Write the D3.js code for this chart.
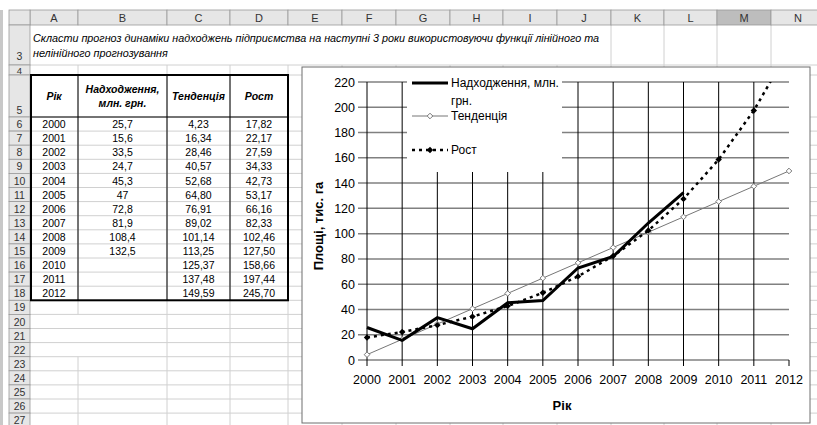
<!DOCTYPE html>
<html>
<head>
<meta charset="utf-8">
<script src="https://cdn.jsdelivr.net/npm/d3@7"></script>
<style>
body { margin: 0; background: #fff; }
svg { display: block; }
text { font-family: Arial, "Liberation Sans", sans-serif; }
</style>
</head>
<body>
<div id="sheet"></div>
<script>
// data
const years = [2000, 2001, 2002, 2003, 2004, 2005, 2006, 2007, 2008, 2009, 2010, 2011, 2012]
const revenue = [25.7, 15.6, 33.5, 24.7, 45.3, 47, 72.8, 81.9, 108.4, 132.5]
const trend = [4.23, 16.34, 28.46, 40.57, 52.68, 64.80, 76.91, 89.02, 101.14, 113.25, 125.37, 137.48, 149.59]
const growth = [17.82, 22.17, 27.59, 34.33, 42.73, 53.17, 66.16, 82.33, 102.46, 127.50, 158.66, 197.44, 245.70]
const yTicks = [0, 20, 40, 60, 80, 100, 120, 140, 160, 180, 200, 220]
const colLetters = ['A', 'B', 'C', 'D', 'E', 'F', 'G', 'H', 'I', 'J', 'K', 'L', 'M', 'N']
const taskLines = ['Скласти прогноз динаміки надходжень підприємства на наступні 3 роки використовуючи функції лінійного та',
                   'нелінійного прогнозування']
const tableHeaders = [['Рік'], ['Надходження,', 'млн. грн.'], ['Тенденція'], ['Рост']]
const legendLabels = [['Надходження, млн.', 'грн.'], ['Тенденція'], ['Рост']]
const xTitle = 'Рік'
const yTitle = 'Площі, тис. га'

const width = 817, height = 425
const col_edges = [30, 78, 167, 230, 288, 342, 396, 450, 503, 557, 611, 664, 717, 771, 825]
const head_top = 10, head_bottom = 25
const row_h = 14.1
const grid_color = '#d0d0d0'
const head_fill = '#e6e6e6'

// row 3..27 -> [top, bottom]
function row_span(r) {
  if (r == 3) return [25, 65]
  if (r == 4) return [65, 75]
  if (r == 5) return [75, 117]
  let top = 117 + (r - 6) * row_h
  return [top, top + row_h]
}
const rows = d3.range(3, 28)

const fmt2 = d3.format('.2f')
const comma = s => String(s).replace('.', ',')

const svg = d3.select('#sheet').append('svg')
  .attr('width', width).attr('height', height)

// ---------- spreadsheet ----------
const grid = svg.append('g')

// horizontal gridlines
rows.forEach(r => {
  grid.append('line')
    .attr('x1', 30).attr('x2', width)
    .attr('y1', row_span(r)[1]).attr('y2', row_span(r)[1])
    .style('stroke', grid_color)
})

// vertical gridlines, skipping merged cells (A3:J3, A20:B22)
col_edges.slice(1).forEach((x, i) => {
  rows.forEach(r => {
    let [t, b] = row_span(r)
    if (r == 3 && i < 9) return
    if (r >= 20 && r <= 22 && i == 0) return
    grid.append('line')
      .attr('x1', x).attr('x2', x).attr('y1', t).attr('y2', b)
      .style('stroke', grid_color)
  })
})

// column headers
colLetters.forEach((c, i) => {
  let x0 = col_edges[i], x1 = col_edges[i + 1]
  grid.append('rect')
    .attr('x', x0).attr('y', head_top).attr('width', x1 - x0).attr('height', head_bottom - head_top)
    .style('fill', c == 'M' ? '#bdbdbd' : head_fill)
    .style('stroke', '#9a9a9a').style('stroke-width', 0.8)
  grid.append('text')
    .attr('x', (x0 + x1) / 2).attr('y', head_bottom - 3.5)
    .attr('text-anchor', 'middle')
    .style('font-size', '11px').style('fill', '#333')
    .text(c)
})
grid.append('rect')
  .attr('x', 9).attr('y', head_top).attr('width', 21).attr('height', head_bottom - head_top)
  .style('fill', head_fill).style('stroke', '#9a9a9a').style('stroke-width', 0.8)

// row headers
rows.forEach(r => {
  let [t, b] = row_span(r)
  grid.append('rect')
    .attr('x', 9).attr('y', t).attr('width', 21).attr('height', b - t)
    .style('fill', head_fill).style('stroke', '#9a9a9a').style('stroke-width', 0.8)
  grid.append('text')
    .attr('x', 19.5).attr('y', r == 4 ? b - 1.5 : (r == 3 ? b - 5 : b - 3))
    .attr('text-anchor', 'middle')
    .style('font-size', r == 4 ? '9.5px' : '10.5px').style('fill', '#333')
    .text(r)
})
grid.append('rect')
  .attr('x', 0).attr('y', head_top).attr('width', 3).attr('height', height)
  .style('fill', '#c8c8c8')

// task text in merged A3:J3
taskLines.forEach((line, i) => {
  grid.append('text')
    .attr('x', 33).attr('y', 41.5 + i * 15)
    .style('font-size', '10.8px').style('font-style', 'italic')
    .text(line)
})

// table A5:D18
const table = svg.append('g')
tableHeaders.forEach((lines, i) => {
  let cx = (col_edges[i] + col_edges[i + 1]) / 2
  lines.forEach((line, j) => {
    table.append('text')
      .attr('x', cx).attr('y', 100 - (lines.length - 1) * 7 + j * 14)
      .attr('text-anchor', 'middle')
      .style('font-size', '10.5px').style('font-weight', 'bold').style('font-style', 'italic')
      .text(line)
  })
})

years.forEach((yr, i) => {
  let [t, b] = row_span(6 + i)
  let cells = [yr,
               i < revenue.length ? comma(revenue[i]) : '',
               comma(fmt2(trend[i])),
               comma(fmt2(growth[i]))]
  cells.forEach((v, j) => {
    table.append('text')
      .attr('x', (col_edges[j] + col_edges[j + 1]) / 2).attr('y', b - 3)
      .attr('text-anchor', 'middle')
      .style('font-size', '10.5px')
      .text(v)
  })
})

const table_bottom = row_span(18)[1]
col_edges.slice(1, 4).forEach(x => {
  table.append('line')
    .attr('x1', x).attr('x2', x).attr('y1', 75).attr('y2', table_bottom)
    .style('stroke', '#000')
})
table.append('line')
  .attr('x1', 30).attr('x2', 288).attr('y1', 117).attr('y2', 117)
  .style('stroke', '#000')
table.append('rect')
  .attr('x', 31).attr('y', 75).attr('width', 257).attr('height', table_bottom - 75)
  .style('fill', 'none').style('stroke', '#000').style('stroke-width', 2)

// ---------- chart ----------
const chart = svg.append('g')
chart.append('rect')
  .attr('x', 302).attr('y', 67).attr('width', 508).attr('height', 356)
  .style('fill', '#fff').style('stroke', '#6e6e6e').style('stroke-width', 1)

const x = d3.scaleLinear().domain([2000, 2012]).range([367, 789])
const y = d3.scaleLinear().domain([0, 220]).range([360, 82])

// gridlines
chart.selectAll('.hgrid').data(yTicks).enter().append('line')
  .attr('x1', x(2000) - 9).attr('x2', x(2012))
  .attr('y1', d => y(d)).attr('y2', d => y(d))
  .style('stroke', '#808080').style('stroke-width', 1.5)

chart.selectAll('.vgrid').data(years.slice(0, -1)).enter().append('line')
  .attr('x1', d => x(d)).attr('x2', d => x(d))
  .attr('y1', y(220)).attr('y2', y(0) + 6)
  .style('stroke', '#000').style('stroke-width', 1)
chart.append('line')
  .attr('x1', x(2012)).attr('x2', x(2012)).attr('y1', y(0)).attr('y2', y(0) + 6)
  .style('stroke', '#000')

// axis labels
chart.selectAll('.ylab').data(yTicks).enter().append('text')
  .attr('x', 355).attr('y', d => y(d) + 4.5)
  .attr('text-anchor', 'end')
  .style('font-size', '12.5px')
  .text(d => d)

chart.selectAll('.xlab').data(years).enter().append('text')
  .attr('x', d => x(d)).attr('y', y(0) + 24)
  .attr('text-anchor', 'middle')
  .style('font-size', '12.5px')
  .text(d => d)

chart.append('text')
  .attr('x', 562).attr('y', 410)
  .attr('text-anchor', 'middle')
  .style('font-size', '13px').style('font-weight', 'bold')
  .text(xTitle)

chart.append('text')
  .attr('transform', 'translate(323,226) rotate(-90)')
  .attr('text-anchor', 'middle')
  .style('font-size', '13px').style('font-weight', 'bold')
  .text(yTitle)

// legend box (covers gridlines)
chart.append('rect')
  .attr('x', 407).attr('y', 72).attr('width', 155).attr('height', 100)
  .style('fill', '#fff')

// series
svg.append('clipPath').attr('id', 'plot-clip')
  .append('rect').attr('x', x(2000) - 5).attr('y', y(220)).attr('width', x(2012) - x(2000) + 10).attr('height', y(0) - y(220) + 5)

const plot = chart.append('g').attr('clip-path', 'url(#plot-clip)')
const line = d3.line().x((d, i) => x(years[i])).y(d => y(d))
const diamond = (cx, cy, r) => `M${cx},${cy - r}L${cx + r},${cy}L${cx},${cy + r}L${cx - r},${cy}Z`

plot.append('path').datum(trend)
  .attr('d', line)
  .style('fill', 'none').style('stroke', '#777').style('stroke-width', 1)
plot.selectAll('.tmark').data(trend).enter().append('path')
  .attr('d', (d, i) => diamond(x(years[i]), y(d), 2.8))
  .style('fill', '#fff').style('stroke', '#777').style('stroke-width', 1)

plot.append('path').datum(growth)
  .attr('d', line)
  .style('fill', 'none').style('stroke', '#000').style('stroke-width', 2.5)
  .style('stroke-dasharray', '3,4')
plot.selectAll('.gmark').data(growth).enter().append('path')
  .attr('d', (d, i) => diamond(x(years[i]), y(d), 3.2))
  .style('fill', '#000')

plot.append('path').datum(revenue)
  .attr('d', line)
  .style('fill', 'none').style('stroke', '#000').style('stroke-width', 3)
  .style('stroke-linejoin', 'miter')

// legend entries
const leg_x0 = 412, leg_x1 = 448, leg_text = 451
const leg_y = [83, 116, 150]
legendLabels.forEach((lines, i) => {
  let g = chart.append('g')
  let ly = leg_y[i]
  let ln = g.append('line')
    .attr('x1', leg_x0).attr('x2', leg_x1).attr('y1', ly).attr('y2', ly)
  if (i == 0) ln.style('stroke', '#000').style('stroke-width', 3)
  if (i == 1) {
    ln.style('stroke', '#777').style('stroke-width', 1)
    g.append('path').attr('d', diamond((leg_x0 + leg_x1) / 2, ly, 2.8))
      .style('fill', '#fff').style('stroke', '#777')
  }
  if (i == 2) {
    ln.style('stroke', '#000').style('stroke-width', 2.5).style('stroke-dasharray', '3,4')
    g.append('path').attr('d', diamond((leg_x0 + leg_x1) / 2, ly, 3.2))
      .style('fill', '#000')
  }
  lines.forEach((t, j) => {
    g.append('text')
      .attr('x', leg_text).attr('y', ly + 4.2 + j * 18)
      .style('font-size', '12px')
      .text(t)
  })
})
</script>
</body>
</html>
